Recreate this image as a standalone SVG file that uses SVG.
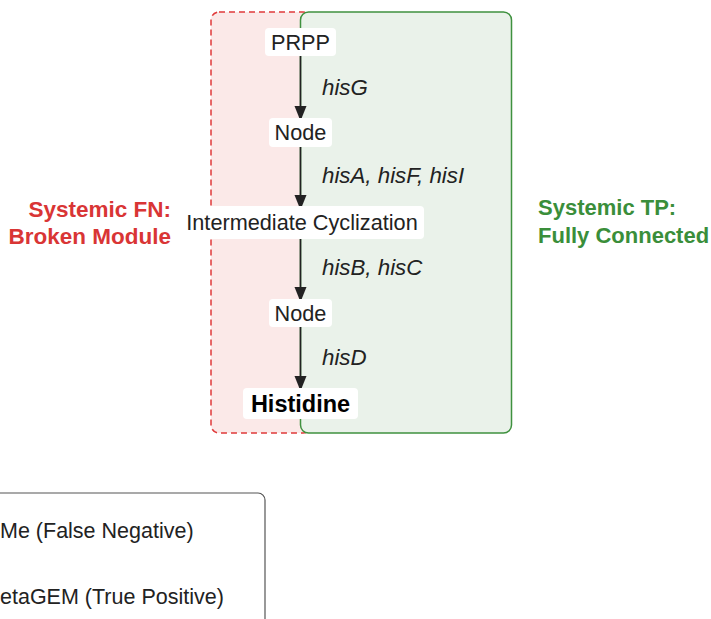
<svg xmlns="http://www.w3.org/2000/svg" width="711" height="619" viewBox="0 0 711 619">
<defs>
<style>
text{font-family:"Liberation Sans",Arial,sans-serif;fill:#222}
.node rect{fill:#fff;stroke:none}
.nt{font-size:21.7px;text-anchor:middle}
.nt.bold{font-size:23.5px;font-weight:bold;fill:#000}
.lbl{font-size:22.3px;font-style:italic}
.edge{stroke:#222;stroke-width:1.6;fill:none;marker-end:url(#ah)}
.fn{fill:#d93535;font-weight:bold;font-size:22.5px}
.tp{fill:#3a8e3a;font-weight:bold;font-size:22px}
.leg{font-size:21.5px}
</style>
<marker id="ah" viewBox="0 0 12 15" refX="12" refY="6" markerWidth="12" markerHeight="15" markerUnits="userSpaceOnUse" orient="auto">
<path d="M0,0 L15,6 L0,12 Z" fill="#222"/>
</marker>
</defs>
<g id="region-fn">
<rect x="211" y="12" width="100" height="421" rx="8" fill="#fbe9e8" stroke="#e03a3a" stroke-width="1.5" stroke-dasharray="6,4"/>
</g>
<g id="region-tp">
<rect x="300.5" y="12" width="211" height="421" rx="8" fill="#eaf2ea" stroke="#3f913f" stroke-width="1.5"/>
</g>
<g id="connectors">
<line class="edge" x1="300.5" y1="56" x2="300.5" y2="118"/>
<line class="edge" x1="300.5" y1="147" x2="300.5" y2="207"/>
<line class="edge" x1="300.5" y1="239" x2="300.5" y2="299"/>
<line class="edge" x1="300.5" y1="327" x2="300.5" y2="388"/>
<text class="lbl" x="322" y="95">hisG</text>
<text class="lbl" x="322" y="183">hisA, hisF, hisI</text>
<text class="lbl" x="322" y="275">hisB, hisC</text>
<text class="lbl" x="322" y="365">hisD</text>
</g>
<g id="n-prpp" class="node">
<rect x="265" y="28" width="71" height="28" rx="4"/>
<text class="nt" x="300.5" y="49.5">PRPP</text>
</g>
<g id="n-node1" class="node">
<rect x="269" y="118" width="63" height="29" rx="4"/>
<text class="nt" x="300.5" y="139.5">Node</text>
</g>
<g id="n-inter" class="node">
<rect x="184" y="206" width="240" height="33" rx="4"/>
<text class="nt" x="302" y="229.5">Intermediate Cyclization</text>
</g>
<g id="n-node2" class="node">
<rect x="269" y="299" width="63" height="28" rx="4"/>
<text class="nt" x="300.5" y="320.5">Node</text>
</g>
<g id="n-his" class="node">
<rect x="243" y="388" width="115" height="31" rx="4"/>
<text class="nt bold" x="300.5" y="412">Histidine</text>
</g>
<g id="label-fn">
<text class="fn" x="171" y="217" text-anchor="end">Systemic FN:</text>
<text class="fn" x="171" y="244" text-anchor="end">Broken Module</text>
</g>
<g id="label-tp">
<text class="tp" x="538" y="215">Systemic TP:</text>
<text class="tp" x="538" y="243">Fully Connected</text>
</g>
<g id="legend">
<rect x="-20" y="493" width="285" height="160" rx="7" fill="#fff" stroke="#555" stroke-width="1.2"/>
<text class="leg" x="0" y="538">Me (False Negative)</text>
<text class="leg" x="0" y="604">etaGEM (True Positive)</text>
</g>
</svg>
